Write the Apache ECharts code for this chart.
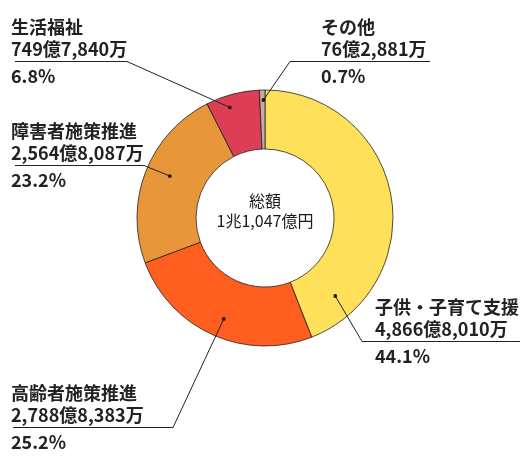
<!DOCTYPE html>
<html><head><meta charset="utf-8">
<script src="https://cdn.jsdelivr.net/npm/echarts@6/dist/echarts.min.js"></script>
<style>html,body{margin:0;padding:0;background:#fff}#c{width:520px;height:460px}</style>
</head><body><div id="c"></div>
<script>
// ---- data (amounts in 万円) ----
const categories = ['子供・子育て支援', '高齢者施策推進', '障害者施策推進', '生活福祉', 'その他'];
const values = [48668010, 27888383, 25648087, 7497840, 762881];
const totalLabel = '総額';

// ---- styles / layout ----
const sliceColors = ['#FFE05A', '#FF5E1E', '#E7963A', '#DC3F55', '#C9ABA5'];
const CX = 265, CY = 218, R0 = 69, R1 = 128;
const FONT = '"Noto Sans CJK JP", "Noto Sans", sans-serif';
const WEIGHT = 'bold';
const anchorSpec = [
  { f: 0.87, r: 105 }, { f: 0.48, r: 109 }, { f: 0.53, r: 104 }, { f: 0.38, r: 116 }, { f: 0.7, r: 118 }
];
const labelPos = [
  { x: 375, y: 296, side: 'R', x0: 362, x1: 520 },
  { x: 11, y: 382, side: 'L', x0: 13, x1: 173 },
  { x: 11, y: 120, side: 'L', x0: 15, x1: 144 },
  { x: 11, y: 16, side: 'L', x0: 15, x1: 127 },
  { x: 321, y: 16, side: 'R', x0: 290, x1: 430 }
];

function fmtOkuMan(v) {
  const oku = Math.floor(v / 10000), man = v % 10000;
  return oku.toLocaleString('en-US') + '億' + man.toLocaleString('en-US') + '万';
}
function fmtTotal(v) {
  const cho = Math.floor(v / 1e8);
  const oku = Math.round((v - cho * 1e8) / 1e4);
  return (cho ? cho + '兆' : '') + oku.toLocaleString('en-US') + '億円';
}
const total = values.reduce((a, b) => a + b, 0);
function anchor(i) {
  let start = 0;
  for (let k = 0; k < i; k++) start += values[k];
  const a0 = start / total * Math.PI * 2, span = values[i] / total * Math.PI * 2;
  const th = a0 + span * anchorSpec[i].f;
  return [CX + anchorSpec[i].r * Math.sin(th), CY - anchorSpec[i].r * Math.cos(th)];
}

const chart = echarts.init(document.getElementById('c'), null, { renderer: 'canvas' });
const dots = categories.map((c, i) => {
  const p = anchor(i);
  return { type: 'circle', shape: { cx: p[0], cy: p[1], r: 1.9 }, style: { fill: '#1a1a1a' }, z: 100, silent: true };
});

const txt = { fontFamily: FONT, fontSize: 18, fontWeight: WEIGHT, color: '#222' };
const common = {
  type: 'pie',
  center: [CX, CY],
  radius: [R0, R1],
  startAngle: 90,
  clockwise: true,
  avoidLabelOverlap: false,
  percentPrecision: 1,
  emphasis: { disabled: true },
  silent: true
};

chart.setOption({
  animation: false,
  backgroundColor: '#fff',
  title: {
    text: totalLabel + '\n' + fmtTotal(total),
    left: CX, top: 191, textAlign: 'center', padding: 0,
    textStyle: { fontFamily: FONT, fontSize: 16, fontWeight: 'normal', lineHeight: 20, color: '#1a1a1a' }
  },
  graphic: { elements: dots },
  series: [
    Object.assign({}, common, {
      z: 2,
      itemStyle: { borderColor: '#222', borderWidth: 0.8 },
      label: { show: false },
      labelLine: { show: false },
      data: categories.map((name, i) => ({ name, value: values[i], itemStyle: { color: sliceColors[i] } }))
    }),
    Object.assign({}, common, {
      z: 5,
      itemStyle: { color: 'rgba(0,0,0,0)', borderWidth: 0 },
      data: categories.map((name, i) => ({ name, value: values[i] })),
      label: {
        show: true,
        position: 'outside',
        fontFamily: FONT,
        color: '#222',
        formatter: p => '{n|' + p.name + '}\n{v|' + fmtOkuMan(p.value) + '}\n{p|' + p.percent.toFixed(1) + '%}',
        rich: {
          n: Object.assign({ lineHeight: 22 }, txt),
          v: Object.assign({ lineHeight: 22 }, txt),
          p: Object.assign({ lineHeight: 32 }, txt)
        }
      },
      labelLine: { show: true, showAbove: true, lineStyle: { color: '#222', width: 1 } },
      labelLayout: function (params) {
        const i = params.dataIndex;
        const L = labelPos[i];
        const uy = L.y + 45.5;
        const a = anchor(i);
        const pts = L.side === 'L'
          ? [a, [L.x1, uy], [L.x0, uy]]
          : [a, [L.x0, uy], [L.x1, uy]];
        return { x: L.x, y: L.y, align: 'left', verticalAlign: 'top', labelLinePoints: pts };
      }
    })
  ]
});
</script>
</body></html>
